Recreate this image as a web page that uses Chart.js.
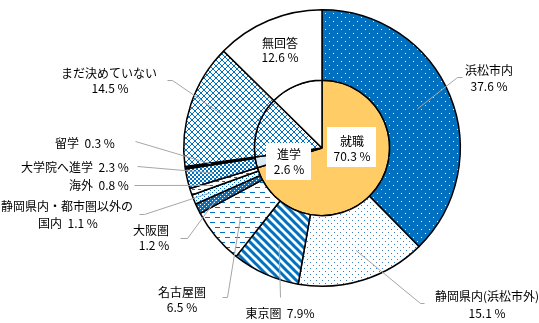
<!DOCTYPE html>
<html><head><meta charset="utf-8">
<script src="https://cdn.jsdelivr.net/npm/chart.js@4/dist/chart.umd.min.js"></script>
<style>html,body{margin:0;padding:0;background:#fff}#wrap{width:539px;height:323px;position:relative}</style>
</head><body><div id="wrap"><canvas id="c" width="539" height="323"></canvas></div>
<script>
// ---- data ----
const outerLabels = ['浜松市内','静岡県内(浜松市外)','東京圏','名古屋圏','大阪圏','静岡県内・都市圏以外の\n国内','海外','大学院へ進学','留学','まだ決めていない','無回答'];
const outerValues = [37.6, 15.1, 7.9, 6.5, 1.2, 1.1, 0.8, 2.3, 0.3, 14.5, 12.6];
const innerLabels = ['就職','進学','まだ決めていない','無回答'];
const innerValues = [70.3, 2.6, 14.5, 12.6];

// ---- patterns ----
const BLUE = '#0070C0';
function tile(w, h, draw){const c=document.createElement('canvas');c.width=w;c.height=h;const x=c.getContext('2d');draw(x,w,h);return x.createPattern(c,'repeat');}
const pHama = tile(8,8,(x)=>{x.fillStyle=BLUE;x.fillRect(0,0,8,8);x.fillStyle='#fff';x.fillRect(1,1,1,1);x.fillRect(5,5,1,1);});
const pShizu = tile(6,6,(x)=>{x.fillStyle='#fff';x.fillRect(0,0,6,6);x.fillStyle='#3b7fc0';x.fillRect(1,1,1,1);x.fillRect(4,4,1,1);});
const pTokyo = tile(8,8,(x)=>{x.fillStyle='#fff';x.fillRect(0,0,8,8);x.strokeStyle=BLUE;x.lineWidth=3;x.beginPath();x.moveTo(-2,-2);x.lineTo(10,10);x.moveTo(-6,2);x.lineTo(6,14);x.moveTo(2,-6);x.lineTo(14,6);x.stroke();});
const pNagoya = tile(10,10,(x)=>{x.fillStyle='#fff';x.fillRect(0,0,10,10);x.fillStyle=BLUE;x.fillRect(0,2,5,1);x.fillRect(5,7,5,1);});
const pOsaka = tile(4,4,(x)=>{x.fillStyle=BLUE;x.fillRect(0,0,4,4);x.fillStyle='#fff';x.fillRect(0,0,1,1);x.fillRect(2,2,1,1);});
const pKokunai = tile(4,4,(x)=>{x.fillStyle='#fff';x.fillRect(0,0,4,4);x.fillStyle=BLUE;x.fillRect(0,0,1,1);x.fillRect(2,2,1,1);});
const pKaigai = tile(6,4,(x)=>{x.fillStyle='#fff';x.fillRect(0,0,6,4);x.fillStyle=BLUE;x.fillRect(0,1,3,1);});
const pDaigakuin = tile(4,4,(x)=>{x.fillStyle='#fff';x.fillRect(0,0,4,4);x.fillStyle=BLUE;x.fillRect(0,0,2,2);x.fillRect(2,2,2,2);});
const pMada = tile(6,6,(x)=>{x.fillStyle='#fff';x.fillRect(0,0,6,6);x.strokeStyle=BLUE;x.lineWidth=1;x.beginPath();x.moveTo(0,0);x.lineTo(6,6);x.moveTo(6,0);x.lineTo(0,6);x.stroke();});
const outerFills = [pHama,pShizu,pTokyo,pNagoya,pOsaka,pKokunai,pKaigai,pDaigakuin,'#000',pMada,'#fff'];
const innerFills = ['#FFCC66','#DDEBF7',pMada,'#fff'];

// ---- label layout ----
const FONT = '12px "Noto Sans CJK JP", "Noto Sans", sans-serif';
const extLabels = [
  {i:0, frac:0.5, r:103, path:[[457,77],[462,77]], lines:[['{n0}',489,70],['{v} %',489,86]]},
  {i:1, frac:0.48, r:108, path:[[420,303],[424,303]], lines:[['{n0}',487,296],['{v} %',487,313]]},
  {i:2, frac:0.5, r:105, path:[[280,297]], lines:[['{n0}  {v}%',280,313]]},
  {i:3, frac:0.5, r:106, path:[[227,297],[222,297]], lines:[['{n0}',182,292],['{v} %',182,307]]},
  {i:4, frac:0.5, r:118, path:[[187,238],[180,238]], lines:[['{n0}',151,230],['{v} %',154,245]]},
  {i:5, frac:0.5, r:120, path:[[144,214],[139,214]], lines:[['{n0}',67,206],['{n1}  {v} %',68,223]]},
  {i:6, frac:0.5, r:118, path:[[134,185]], lines:[['{n0}  {v} %',99,185]]},
  {i:7, frac:0.5, r:112, path:[[137,166]], lines:[['{n0}  {v} %',75,167]]},
  {i:8, frac:0.5, r:112, path:[[135,141]], lines:[['{n0}  {v} %',85,143]]},
  {i:9, frac:0.5, r:105, path:[[172,80],[167,80]], lines:[['{n0}',109,73],['{v} %',110,88]]},
  {i:10, frac:0, r:0, path:null, lines:[['{n0}',280,43],['{v} %',280,57]]}
];
const innerBoxes = [
  {i:0, box:[327,127,49,40], lines:[['{n0}',352,141],['{v} %',352,156]]},
  {i:1, box:[266,143,45,37], lines:[['{n0}',289,154],['{v} %',289,169]]}
];
function fmt(t, name, v){const p=name.split('\n');return t.replace('{n0}',p[0]).replace('{n1}',p[1]||'').replace('{v}',v.toFixed(1));}

const labelPlugin = {
  id:'labels',
  afterDatasetsDraw(chart){
    const ctx = chart.ctx;
    const meta = chart.getDatasetMeta(0);
    ctx.save();
    ctx.strokeStyle = '#A6A6A6'; ctx.lineWidth = 1;
    extLabels.forEach(L=>{
      if(!L.path) return;
      const a = meta.data[L.i];
      const ang = a.startAngle + L.frac*(a.endAngle - a.startAngle);
      ctx.beginPath();
      ctx.moveTo(a.x + L.r*Math.cos(ang), a.y + L.r*Math.sin(ang));
      L.path.forEach(p=>ctx.lineTo(p[0]+0.5,p[1]+0.5));
      ctx.stroke();
    });
    ctx.font = FONT; ctx.fillStyle = '#000'; ctx.textAlign='center'; ctx.textBaseline='middle';
    extLabels.forEach(L=>{
      L.lines.forEach(l=>ctx.fillText(fmt(l[0], outerLabels[L.i], outerValues[L.i]), l[1], l[2]));
    });
    innerBoxes.forEach(B=>{
      ctx.fillStyle='#fff'; ctx.fillRect(B.box[0],B.box[1],B.box[2],B.box[3]);
      ctx.fillStyle='#000';
      B.lines.forEach(l=>ctx.fillText(fmt(l[0], innerLabels[B.i], innerValues[B.i]), l[1], l[2]));
    });
    ctx.restore();
  }
};

new Chart(document.getElementById('c'), {
  type:'pie',
  data:{
    labels: outerLabels,
    datasets:[
      {data: outerValues, backgroundColor: outerFills, borderColor:'#000', borderWidth:1.5, weight:71},
      {data: innerValues, backgroundColor: innerFills, borderColor:'#000', borderWidth:1.5, weight:68}
    ]
  },
  options:{
    responsive:false, animation:false, devicePixelRatio:1,
    layout:{padding:{left:183, right:78, top:9, bottom:36}},
    plugins:{legend:{display:false}, tooltip:{enabled:false}}
  },
  plugins:[labelPlugin]
});
</script></body></html>
